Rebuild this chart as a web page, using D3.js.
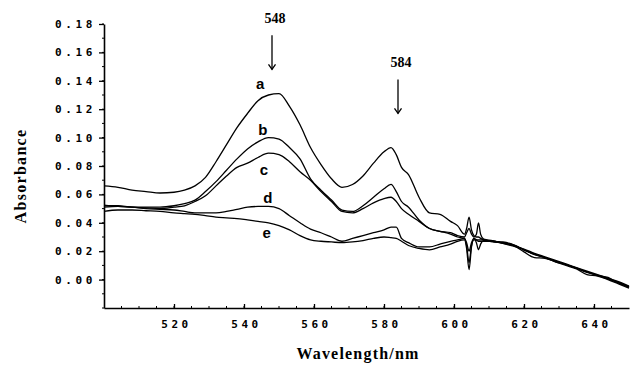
<!DOCTYPE html>
<html>
<head>
<meta charset="utf-8">
<script src="https://cdn.jsdelivr.net/npm/d3@7/dist/d3.min.js"></script>
<style>
  html, body { margin: 0; padding: 0; background: #fff; }
  svg { display: block; }
</style>
</head>
<body>
<svg id="chart" width="630" height="366"></svg>
<script>
// Wavelength grid (nm) shared by all spectra
const wavelengths = [500, 504, 508, 512, 516, 520, 523, 526, 529, 532, 535, 538, 541, 544, 547, 550,
  553, 556, 559, 562, 565, 568, 571, 574, 577, 580, 582, 583.5, 585, 587, 590, 593, 596, 599, 601,
  603, 603.6, 604.3, 605.0, 605.7, 606.4, 607, 607.6, 608.5,
  611, 614, 617, 620, 623, 626, 629, 632, 635, 638, 641, 644, 647, 650];

// Absorbance spectra a–e
const absA = [0.066, 0.065, 0.063, 0.062, 0.061, 0.0615, 0.063, 0.066, 0.072, 0.083, 0.095, 0.107, 0.117, 0.126, 0.130, 0.131,
  0.122, 0.109, 0.093, 0.081, 0.071, 0.065, 0.067, 0.073, 0.082, 0.090, 0.093, 0.088, 0.079, 0.074, 0.058, 0.047, 0.046, 0.041, 0.038,
  0.032, 0.036, 0.044, 0.035, 0.031, 0.030, 0.030, 0.029, 0.028,
  0.027, 0.0265, 0.0245, 0.021, 0.018, 0.0155, 0.013, 0.0105, 0.008, 0.0055, 0.003, 0.0005, -0.002, -0.005];
const absB = [0.052, 0.052, 0.051, 0.051, 0.051, 0.052, 0.0535, 0.056, 0.062, 0.069, 0.077, 0.085, 0.092, 0.097, 0.100, 0.099,
  0.093, 0.085, 0.071, 0.063, 0.056, 0.049, 0.048, 0.052, 0.058, 0.064, 0.067, 0.062, 0.055, 0.051, 0.042, 0.036, 0.034, 0.033, 0.031,
  0.030, 0.033, 0.036, 0.032, 0.030, 0.032, 0.040, 0.032, 0.0285,
  0.0275, 0.0255, 0.0235, 0.0215, 0.0185, 0.016, 0.0135, 0.011, 0.0085, 0.006, 0.0035, 0.001, -0.0015, -0.0045];
const absC = [0.0525, 0.0515, 0.051, 0.0505, 0.050, 0.051, 0.052, 0.055, 0.059, 0.066, 0.073, 0.079, 0.082, 0.086, 0.089, 0.088,
  0.083, 0.076, 0.070, 0.062, 0.055, 0.048, 0.047, 0.050, 0.054, 0.057, 0.058, 0.055, 0.050, 0.046, 0.041, 0.036, 0.034, 0.032, 0.030,
  0.029, 0.026, 0.020, 0.026, 0.029, 0.026, 0.021, 0.025, 0.0275,
  0.027, 0.026, 0.0245, 0.021, 0.018, 0.0155, 0.0125, 0.0105, 0.008, 0.0055, 0.003, 0.0005, -0.002, -0.0055];
const absD = [0.051, 0.0515, 0.051, 0.050, 0.0495, 0.049, 0.048, 0.047, 0.047, 0.047, 0.048, 0.0495, 0.051, 0.0515, 0.0515, 0.050,
  0.045, 0.040, 0.0355, 0.033, 0.030, 0.027, 0.029, 0.031, 0.033, 0.035, 0.037, 0.037, 0.029, 0.026, 0.023, 0.023, 0.025, 0.027, 0.028,
  0.029, 0.024, 0.012, 0.024, 0.028, 0.028, 0.028, 0.028, 0.028,
  0.0265, 0.026, 0.024, 0.0195, 0.0155, 0.015, 0.0125, 0.010, 0.0075, 0.0035, 0.0025, 0.0, -0.003, -0.006];
const absE = [0.048, 0.049, 0.049, 0.0485, 0.048, 0.047, 0.0465, 0.046, 0.045, 0.044, 0.0435, 0.043, 0.042, 0.041, 0.040, 0.038,
  0.035, 0.031, 0.028, 0.027, 0.0265, 0.026, 0.0265, 0.0275, 0.029, 0.030, 0.0295, 0.029, 0.027, 0.024, 0.022, 0.021, 0.023, 0.025, 0.027,
  0.028, 0.022, 0.007, 0.023, 0.029, 0.028, 0.027, 0.027, 0.027,
  0.027, 0.0255, 0.024, 0.021, 0.0175, 0.0155, 0.013, 0.0105, 0.008, 0.005, 0.003, 0.0015, -0.0025, -0.005];

// Curve letters and where they sit (wavelength, absorbance)
const curveNames = ["a", "b", "c", "d", "e"];
const curveLabelPos = [[544.6, 0.134], [545.4, 0.102], [545.7, 0.074], [546.8, 0.054], [546.5, 0.0295]];

// Peak markers
const peakWavelengths = [548, 584];
const peakArrowTop = [0.172, 0.141];
const peakArrowBottom = [0.148, 0.117];

// Axis ticks
const yTicks = [0.00, 0.02, 0.04, 0.06, 0.08, 0.10, 0.12, 0.14, 0.16, 0.18];
const xTicks = [520, 540, 560, 580, 600, 620, 640];

const series = [absA, absB, absC, absD, absE];

const svg = d3.select("#chart");
const x = d3.scaleLinear().domain([500, 650]).range([104, 629]);
const y = d3.scaleLinear().domain([-0.02, 0.18]).range([308, 24]);

const ink = "#000";

// Y axis
const yAxis = d3.axisLeft(y).tickValues(yTicks).tickSize(5).tickSizeOuter(0).tickFormat(d3.format(".2f"));
const gy = svg.append("g").attr("transform", `translate(${x(500)},0)`).call(yAxis);
gy.select(".domain").attr("stroke", ink).attr("stroke-width", 1.6);
gy.selectAll(".tick line").attr("stroke", ink).attr("stroke-width", 1.3);
gy.selectAll(".tick text")
  .attr("font-family", "DejaVu Sans Mono")
  .attr("font-weight", "bold")
  .attr("font-size", 11)
  .attr("letter-spacing", 3.6)
  .attr("fill", ink)
  .attr("x", -8);
// minor y ticks
svg.append("g").selectAll("line").data(d3.range(-0.02, 0.1801, 0.01))
  .join("line")
  .attr("x1", x(500) - 2).attr("x2", x(500))
  .attr("y1", d => y(d)).attr("y2", d => y(d))
  .attr("stroke", ink).attr("stroke-width", 1);

// X axis with ticks pointing into the plot
const xAxis = d3.axisBottom(x).tickValues(xTicks).tickSize(-4).tickSizeOuter(0).tickFormat(d3.format("d"));
const gx = svg.append("g").attr("transform", `translate(0,${y(-0.02)})`).call(xAxis);
gx.select(".domain").attr("stroke", ink).attr("stroke-width", 1.6);
gx.selectAll(".tick line").attr("stroke", ink).attr("stroke-width", 1.3);
gx.selectAll(".tick text")
  .attr("font-family", "DejaVu Sans Mono")
  .attr("font-weight", "bold")
  .attr("font-size", 11)
  .attr("letter-spacing", 3.6)
  .attr("fill", ink)
  .attr("dx", 2)
  .attr("y", 12);
// minor x ticks
svg.append("g").selectAll("line").data(d3.range(505, 650, 5))
  .join("line")
  .attr("x1", d => x(d)).attr("x2", d => x(d))
  .attr("y1", y(-0.02)).attr("y2", y(-0.02) - 2)
  .attr("stroke", ink).attr("stroke-width", 1);

// Spectra
const line = d3.line()
  .x((d, i) => x(wavelengths[i]))
  .y(d => y(d))
  .curve(d3.curveMonotoneX);

svg.append("g").selectAll("path").data(series)
  .join("path")
  .attr("d", d => line(d))
  .attr("fill", "none")
  .attr("stroke", ink)
  .attr("stroke-width", 1.3)
  .attr("stroke-linejoin", "round");

// Curve letters
svg.append("g").selectAll("text").data(curveNames)
  .join("text")
  .attr("x", (d, i) => x(curveLabelPos[i][0]))
  .attr("y", (d, i) => y(curveLabelPos[i][1]))
  .attr("text-anchor", "middle")
  .attr("font-family", "Liberation Sans, Arial, sans-serif")
  .attr("font-weight", "bold")
  .attr("font-size", 15)
  .attr("fill", ink)
  .text(d => d);

// Peak arrows and labels
const peaks = svg.append("g");
peakWavelengths.forEach((w, i) => {
  const px = x(w);
  const y0 = y(peakArrowTop[i]);
  const y1 = y(peakArrowBottom[i]);
  peaks.append("line").attr("x1", px).attr("x2", px).attr("y1", y0).attr("y2", y1)
    .attr("stroke", ink).attr("stroke-width", 1.3);
  peaks.append("path")
    .attr("d", `M${px - 3.5},${y1 - 5}L${px},${y1}L${px + 3.5},${y1 - 5}`)
    .attr("fill", "none").attr("stroke", ink).attr("stroke-width", 1.3);
  peaks.append("text")
    .attr("x", px + 3)
    .attr("y", y0 - 12)
    .attr("text-anchor", "middle")
    .attr("font-family", "Liberation Serif, Times New Roman, serif")
    .attr("font-weight", "bold")
    .attr("font-size", 14)
    .attr("fill", ink)
    .text(w);
});

// Axis titles
svg.append("text")
  .attr("x", 358).attr("y", 359)
  .attr("text-anchor", "middle")
  .attr("font-family", "Liberation Serif, Times New Roman, serif")
  .attr("font-weight", "bold")
  .attr("font-size", 16)
  .attr("letter-spacing", 1.2)
  .attr("fill", ink)
  .text("Wavelength/nm");

svg.append("text")
  .attr("transform", "translate(26,176) rotate(-90)")
  .attr("text-anchor", "middle")
  .attr("font-family", "Liberation Serif, Times New Roman, serif")
  .attr("font-weight", "bold")
  .attr("font-size", 16)
  .attr("letter-spacing", 1.3)
  .attr("fill", ink)
  .text("Absorbance");
</script>
</body>
</html>
